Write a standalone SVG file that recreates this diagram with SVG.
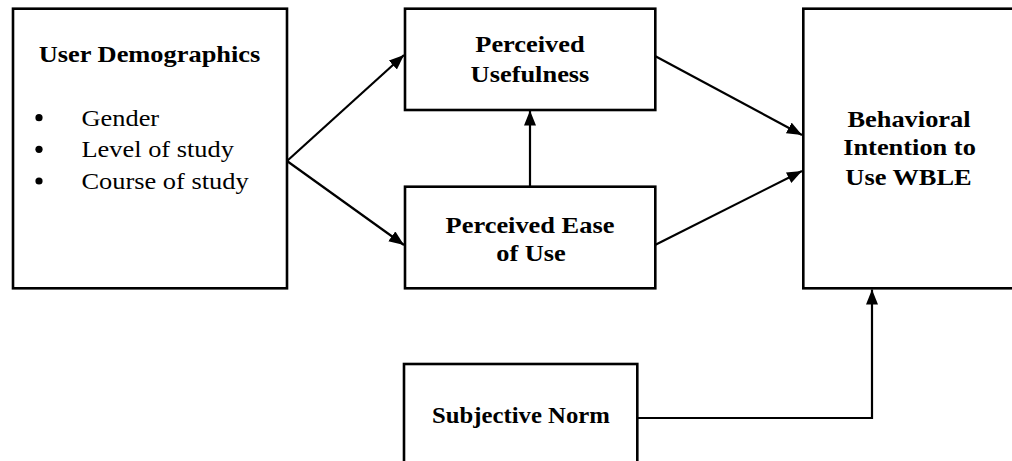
<svg xmlns="http://www.w3.org/2000/svg" width="1012" height="461" viewBox="0 0 1012 461">
  <style>
    .box { fill: #ffffff; stroke: #000000; stroke-width: 2.6; }
    .conn { fill: none; stroke: #000000; stroke-width: 2.2; }
    .title { font-family: 'Liberation Serif', 'Times New Roman', serif; font-weight: bold; font-size: 24px; fill: #000000; text-anchor: middle; }
    .item { font-family: 'Liberation Serif', 'Times New Roman', serif; font-size: 24px; fill: #000000; }
  </style>
  <defs>
    <marker id="arrow" markerUnits="userSpaceOnUse" markerWidth="16" markerHeight="13" refX="15" refY="6" orient="auto">
      <path d="M0,0 L15,6 L0,12 z" fill="#000000"/>
    </marker>
  </defs>

  <rect width="1012" height="461" fill="#ffffff"/>

  <!-- Connectors -->
  <g id="connectors">
    <path class="conn" d="M287,161 L404,55" marker-end="url(#arrow)"/>
    <path class="conn" d="M287,161 L404,245" marker-end="url(#arrow)"/>
    <path class="conn" d="M530,187 L530,110.5" marker-end="url(#arrow)"/>
    <path class="conn" d="M655,56 L802,135" marker-end="url(#arrow)"/>
    <path class="conn" d="M655,245 L802,171" marker-end="url(#arrow)"/>
    <path class="conn" d="M637,418 L872,418 L872,289.5" marker-end="url(#arrow)"/>
  </g>

  <!-- User Demographics (text widened 10% horizontally) -->
  <g id="user-demographics">
    <rect class="box" x="13" y="8.7" width="274" height="279.6"/>
    <text class="title" transform="translate(149.5,62) scale(1.1,1)">User Demographics</text>
    <circle cx="39" cy="117.7" r="3.6"/>
    <circle cx="39" cy="149.3" r="3.6"/>
    <circle cx="39" cy="181" r="3.6"/>
    <text class="item" transform="translate(81.5,125.7) scale(1.1,1)">Gender</text>
    <text class="item" transform="translate(81.5,157.3) scale(1.1,1)">Level of study</text>
    <text class="item" transform="translate(81.5,189) scale(1.1,1)">Course of study</text>
  </g>

  <!-- Perceived Usefulness -->
  <g id="perceived-usefulness">
    <rect class="box" x="405" y="8.7" width="250.3" height="101.3"/>
    <text class="title" transform="translate(530,51.7) scale(1.1,1)">Perceived</text>
    <text class="title" transform="translate(530,81.7) scale(1.1,1)">Usefulness</text>
  </g>

  <!-- Perceived Ease of Use -->
  <g id="perceived-ease-of-use">
    <rect class="box" x="405" y="186.7" width="250.3" height="101.6"/>
    <text class="title" transform="translate(530,232.7) scale(1.1,1)">Perceived Ease</text>
    <text class="title" transform="translate(531,261) scale(1.1,1)">of Use</text>
  </g>

  <!-- Behavioral Intention to Use WBLE -->
  <g id="behavioral-intention">
    <rect class="box" x="803.3" y="8.7" width="230" height="279.6"/>
    <text class="title" transform="translate(909,126.7) scale(1.1,1)">Behavioral</text>
    <text class="title" transform="translate(909.5,155) scale(1.1,1)">Intention to</text>
    <text class="title" transform="translate(908.5,185) scale(1.1,1)">Use WBLE</text>
  </g>

  <!-- Subjective Norm -->
  <g id="subjective-norm">
    <rect class="box" x="404" y="364" width="233.3" height="120"/>
    <text class="title" transform="translate(521,423.3) scale(1.03,1)">Subjective Norm</text>
  </g>
</svg>
